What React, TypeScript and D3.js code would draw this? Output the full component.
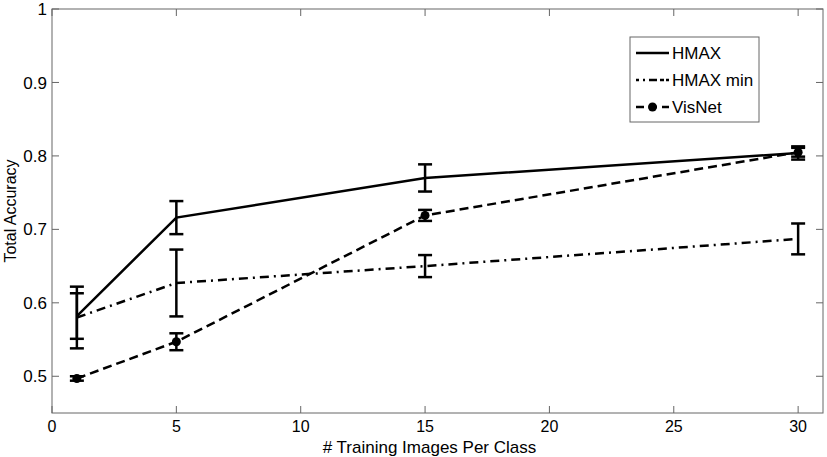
import * as d3 from 'd3'
import { useEffect, useRef } from 'react'

const trainingImages = [1, 5, 15, 30]

const hmax = [0.582, 0.716, 0.770, 0.804]
const hmaxErr = [0.031, 0.0225, 0.0185, 0.009]

const hmaxMin = [0.580, 0.627, 0.650, 0.687]
const hmaxMinErr = [0.042, 0.0455, 0.015, 0.021]

const visNet = [0.497, 0.547, 0.719, 0.805]
const visNetErr = [0.003, 0.0115, 0.0075, 0.006]

const xTicks = [0, 5, 10, 15, 20, 25, 30]
const yTicks = [0.5, 0.6, 0.7, 0.8, 0.9, 1]

const seriesNames = ['HMAX', 'HMAX min', 'VisNet']

interface ISeries {
  name: string
  values: number[]
  errors: number[]
  dash: string
  legendDash: string
  marker: boolean
}

const App = () => {
  const ref = useRef<SVGSVGElement>(null)

  useEffect(() => {
    if (!ref.current) return
    document.body.style.margin = '0'

    const width = 827
    const height = 457
    const marginLeft = 52
    const marginRight = 4
    const marginTop = 9
    const marginBottom = 44

    const svg = d3.select(ref.current)
    svg.selectAll('*').remove()

    const x = d3.scaleLinear()
      .domain([0, 31])
      .range([marginLeft, width - marginRight])

    const y = d3.scaleLinear()
      .domain([0.45, 1])
      .range([height - marginBottom, marginTop])

    const series: ISeries[] = [
      { name: seriesNames[0], values: hmax, errors: hmaxErr, dash: 'none', legendDash: 'none', marker: false },
      { name: seriesNames[1], values: hmaxMin, errors: hmaxMinErr, dash: '9,5,2,5', legendDash: '3,4,2,4,8', marker: false },
      { name: seriesNames[2], values: visNet, errors: visNetErr, dash: '9,5', legendDash: '8,5', marker: true }
    ]

    const font = 'Liberation Sans, Arial, Helvetica, sans-serif'
    const axisColor = '#666'
    const tickLen = 7

    svg.append('rect')
      .attr('width', width)
      .attr('height', height)
      .attr('fill', '#fff')

    // Box
    const [x0, x1] = x.range()
    const [y0, y1] = y.range()
    svg.append('rect')
      .attr('x', x0)
      .attr('y', y1)
      .attr('width', x1 - x0)
      .attr('height', y0 - y1)
      .attr('fill', 'none')
      .attr('stroke', axisColor)
      .attr('stroke-width', 1)

    // X ticks (bottom and top, inward)
    const xt = svg.append('g')
    xTicks.forEach(t => {
      xt.append('line')
        .attr('x1', x(t)).attr('x2', x(t))
        .attr('y1', y0).attr('y2', y0 - tickLen)
        .attr('stroke', axisColor)
      xt.append('line')
        .attr('x1', x(t)).attr('x2', x(t))
        .attr('y1', y1).attr('y2', y1 + tickLen)
        .attr('stroke', axisColor)
      xt.append('text')
        .attr('x', x(t))
        .attr('y', y0 + 19)
        .attr('text-anchor', 'middle')
        .style('font-family', font)
        .style('font-size', '16px')
        .text(String(t))
    })

    // Y ticks (left and right, inward)
    const yt = svg.append('g')
    yTicks.forEach(t => {
      yt.append('line')
        .attr('x1', x0).attr('x2', x0 + tickLen)
        .attr('y1', y(t)).attr('y2', y(t))
        .attr('stroke', axisColor)
      yt.append('line')
        .attr('x1', x1).attr('x2', x1 - tickLen)
        .attr('y1', y(t)).attr('y2', y(t))
        .attr('stroke', axisColor)
      yt.append('text')
        .attr('x', x0 - 5)
        .attr('y', y(t))
        .attr('dy', '0.36em')
        .attr('text-anchor', 'end')
        .style('font-family', font)
        .style('font-size', '17px')
        .text(String(t))
    })

    // Axis labels
    svg.append('text')
      .attr('x', (x0 + x1) / 2 - 8)
      .attr('y', height - 4)
      .attr('text-anchor', 'middle')
      .style('font-family', font)
      .style('font-size', '17px')
      .text('# Training Images Per Class')

    svg.append('text')
      .attr('transform', `translate(16,${(y0 + y1) / 2}) rotate(-90)`)
      .attr('text-anchor', 'middle')
      .style('font-family', font)
      .style('font-size', '16px')
      .text('Total Accuracy')

    // Lines
    const line = d3.line<number>()
      .x((_, i) => x(trainingImages[i]))
      .y(d => y(d))

    series.forEach(s => {
      svg.append('path')
        .datum(s.values)
        .attr('fill', 'none')
        .attr('stroke', '#000')
        .attr('stroke-width', 2.5)
        .attr('stroke-dasharray', s.dash)
        .attr('d', line)
    })

    // Error bars and markers
    const capHalf = 7
    series.forEach(s => {
      const g = svg.append('g')
        .attr('stroke', '#000')
        .attr('stroke-width', 2.5)
      s.values.forEach((v, i) => {
        const cx = x(trainingImages[i])
        const top = y(v + s.errors[i])
        const bot = y(v - s.errors[i])
        g.append('line').attr('x1', cx).attr('x2', cx).attr('y1', top).attr('y2', bot)
        g.append('line').attr('x1', cx - capHalf).attr('x2', cx + capHalf).attr('y1', top).attr('y2', top)
        g.append('line').attr('x1', cx - capHalf).attr('x2', cx + capHalf).attr('y1', bot).attr('y2', bot)
      })
      if (s.marker) {
        svg.selectAll(null)
          .data(s.values)
          .enter()
          .append('circle')
          .attr('cx', (_, i) => x(trainingImages[i]))
          .attr('cy', d => y(d))
          .attr('r', 4.5)
          .attr('fill', '#000')
      }
    })

    // Legend
    const legend = svg.append('g').attr('transform', 'translate(630,37)')
    legend.append('rect')
      .attr('width', 129)
      .attr('height', 85)
      .attr('fill', '#fff')
      .attr('stroke', axisColor)
      .attr('stroke-width', 1)

    series.forEach((s, i) => {
      const ly = 16 + i * 27
      legend.append('line')
        .attr('x1', 6).attr('x2', 39)
        .attr('y1', ly).attr('y2', ly)
        .attr('stroke', '#000')
        .attr('stroke-width', 2.5)
        .attr('stroke-dasharray', s.legendDash)
      if (s.marker) {
        legend.append('circle')
          .attr('cx', 22.5).attr('cy', ly).attr('r', 4.5).attr('fill', '#000')
      }
      legend.append('text')
        .attr('x', 42)
        .attr('y', ly)
        .attr('dy', '0.36em')
        .style('font-family', font)
        .style('font-size', '17px')
        .text(s.name)
    })
  }, [])

  return <svg ref={ref} width={827} height={457} style={{ display: 'block' }} />
}

export default App
